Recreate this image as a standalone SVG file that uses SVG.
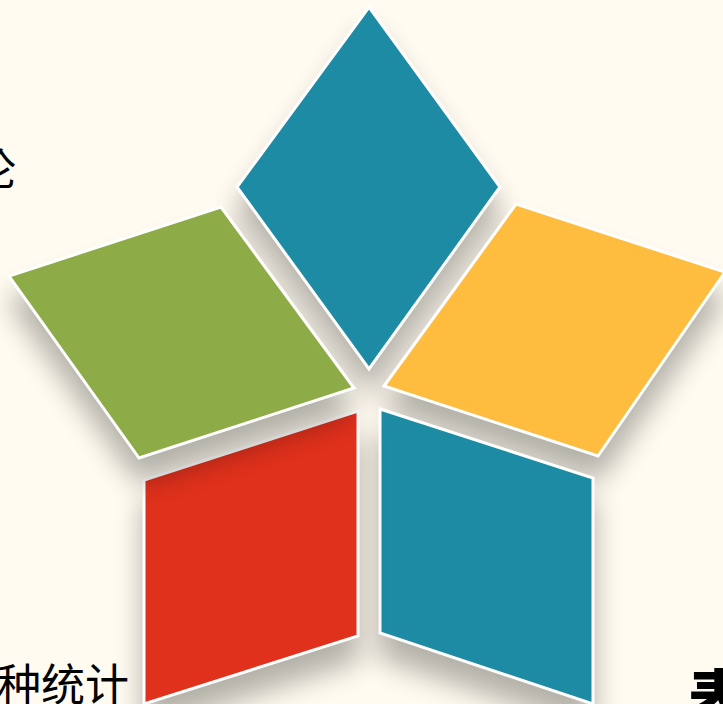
<svg xmlns="http://www.w3.org/2000/svg" width="723" height="704" viewBox="0 0 723 704">
<style>
.p{stroke:#fff;stroke-width:3;stroke-linejoin:miter;filter:url(#s)}
.t{font-family:"Liberation Sans","Noto Sans CJK SC",sans-serif;font-size:44px;fill:#000}
.b{font-weight:900;font-size:62px}
</style>
<defs>
<filter id="s" x="-30%" y="-30%" width="160%" height="160%" color-interpolation-filters="sRGB">
<feGaussianBlur in="SourceAlpha" stdDeviation="14"/>
<feOffset dx="0" dy="24"/>
<feComponentTransfer><feFuncA type="linear" slope="0.3"/></feComponentTransfer>
<feColorMatrix type="matrix" values="0 0 0 0 0 0 0 0 0 0 0 0 0 0 0 0 0 0 1 0"/>
<feMerge><feMergeNode/><feMergeNode in="SourceGraphic"/></feMerge>
</filter>
</defs>
<rect width="723" height="704" fill="#fffbf0"/>
<g id="labels">
<text class="t" x="-28" y="186">论</text>
<text class="t" x="-3" y="701">种统计</text>
<text class="t b" x="688" y="722">表</text>
</g>
<g id="petal-top"><polygon class="p" fill="#1c8ba3" points="369,7 500,187 369,369 237,187"/></g>
<g id="petal-orange"><polygon class="p" fill="#ffbd3f" points="516,204 725,272 598,456 384,386"/></g>
<g id="petal-blue"><polygon class="p" fill="#1c8ba3" points="380,409 593,478 593,704 380,633"/></g>
<g id="petal-red"><polygon class="p" fill="#e0311c" points="358,411 358,636 144,704 144,480"/></g>
<g id="petal-green"><polygon class="p" fill="#8dab47" points="221,207 354,388 139,458 9,276"/></g>
<g id="connectors"></g>
</svg>
